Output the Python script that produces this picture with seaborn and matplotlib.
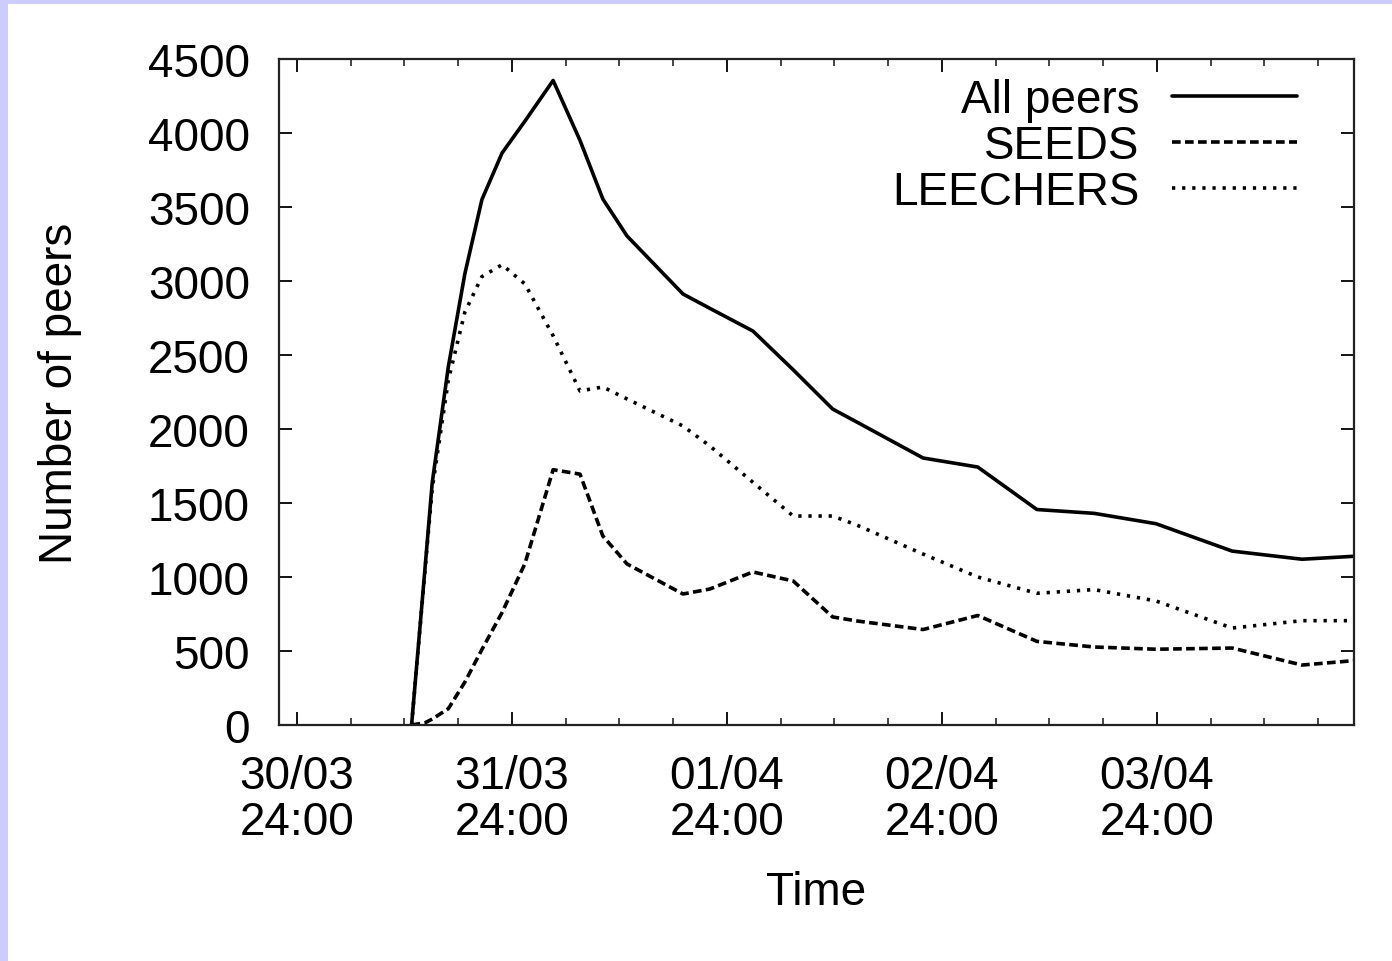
import matplotlib
matplotlib.use("Agg")
import matplotlib.pyplot as plt
from matplotlib.patches import Rectangle
from matplotlib.ticker import MultipleLocator, FixedLocator
import seaborn as sns

# ---- data (hours after 30/03 24:00) ----
hours = [12.8, 14.3, 15.1, 16.9, 18.75, 20.65, 22.9, 25.45, 28.6, 31.6, 34.15,
         36.85, 43.1, 46.1, 50.9, 55.4, 59.8, 62.5, 69.9, 76.0, 82.6, 89.0,
         95.9, 104.4, 112.2, 118.0]
all_peers = [0, 1060, 1635, 2420, 3050, 3550, 3865, 4080, 4355, 3950, 3554,
             3304, 2912, 2815, 2662, 2400, 2135, 2047, 1804, 1743, 1456, 1430,
             1360, 1175, 1120, 1140]
seeds = [0, 15, 40, 110, 290, 510, 760, 1090, 1725, 1695, 1277,
         1088, 885, 919, 1034, 973, 730, 703, 645, 740, 565, 527,
         512, 520, 405, 435]
leechers = [0, 1045, 1595, 2330, 2790, 3030, 3110, 2980, 2630, 2257, 2284,
            2203, 2020, 1885, 1640, 1412, 1412, 1351, 1155, 1000, 890, 915,
            838, 655, 705, 705]
series_names = ["All peers", "SEEDS", "LEECHERS"]
tick_hours = [0, 24, 48, 72, 96]
tick_labels = ["30/03\n24:00", "31/03\n24:00", "01/04\n24:00", "02/04\n24:00", "03/04\n24:00"]
y_ticks = [0, 500, 1000, 1500, 2000, 2500, 3000, 3500, 4000, 4500]

sns.set_theme(style="ticks")
plt.rcParams["font.family"] = ["Liberation Sans", "DejaVu Sans"]
plt.rcParams["text.color"] = "black"
plt.rcParams["axes.labelcolor"] = "black"
FS = 33

W, H = 1392, 962
fig = plt.figure(figsize=(W / 100, H / 100), dpi=100)
fig.patch.set_facecolor("#ccccff")
fig.patches.append(Rectangle((8 / W, 0), 1 - 8 / W, 1 - 5 / H, transform=fig.transFigure,
                             facecolor="white", edgecolor="none", zorder=-10))

ax = fig.add_axes([279 / W, 1 - 726 / H, (1354 - 279) / W, (726 - 60) / H])
ax.set_facecolor("white")

lw = 2.6
sns.lineplot(x=hours, y=all_peers, ax=ax, color="black", lw=lw, linestyle="-",
             label=series_names[0], sort=False, estimator=None)
sns.lineplot(x=hours, y=seeds, ax=ax, color="black", lw=lw, linestyle=(0, (2.4, 1.2)),
             label=series_names[1], sort=False, estimator=None)
sns.lineplot(x=hours, y=leechers, ax=ax, color="black", lw=lw, linestyle=(0, (0.9, 1.9)),
             label=series_names[2], sort=False, estimator=None)

ax.set_xlim(-2, 118)
ax.set_ylim(0, 4500)
ax.xaxis.set_major_locator(FixedLocator(tick_hours))
ax.set_xticklabels(tick_labels, linespacing=1.05)
ax.xaxis.set_minor_locator(MultipleLocator(6))
ax.set_yticks(y_ticks)
ax.set_yticklabels([str(v) for v in y_ticks])

ax.tick_params(axis="both", which="major", direction="in", length=9.5, width=1.3,
               top=True, right=True, labelsize=FS, colors="black")
ax.tick_params(axis="x", which="major", pad=21)
ax.tick_params(axis="y", which="major", pad=21)
ax.tick_params(axis="x", which="minor", direction="in", length=5, width=1.2,
               top=True, bottom=True)
for s in ax.spines.values():
    s.set_linewidth(1.6)
    s.set_color("#222222")
    s.set_visible(True)

ax.set_xlabel("Time", fontsize=FS, color="black")
ax.set_ylabel("Number of peers", fontsize=FS, color="black")
ax.xaxis.set_label_coords(0.5, -0.217)
ax.yaxis.set_label_coords(-0.1835, 0.5)

leg = ax.legend(loc="upper right", bbox_to_anchor=(0.947, 0.972), frameon=False,
                fontsize=FS, markerfirst=False, handlelength=2.73, handletextpad=0.7,
                labelspacing=0.05, borderpad=0, borderaxespad=0)
for t in leg.get_texts():
    t.set_color("black")

fig.savefig("out.png", dpi=100, facecolor=fig.get_facecolor())
